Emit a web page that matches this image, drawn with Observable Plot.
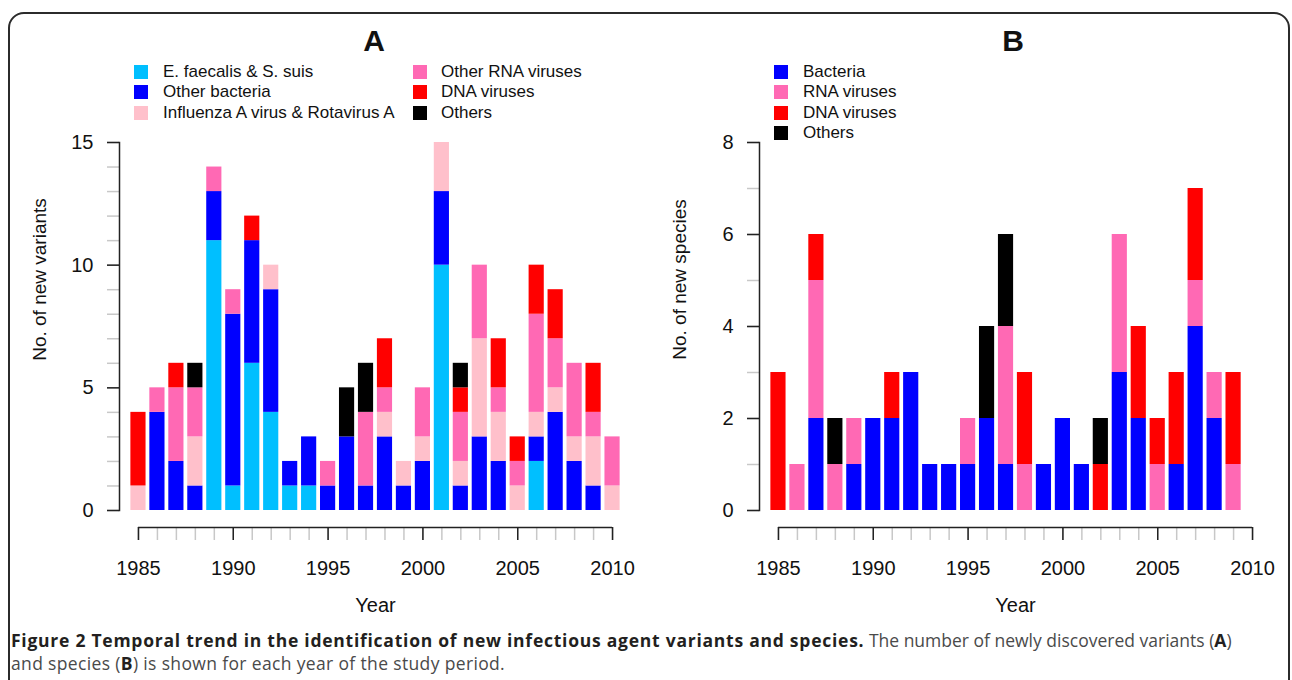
<!DOCTYPE html>
<html>
<head>
<meta charset="utf-8">
<script src="https://cdn.jsdelivr.net/npm/d3@7"></script>
<script src="https://cdn.jsdelivr.net/npm/@observablehq/plot@0.6"></script>
<style>
  body { margin: 0; background: #fff; }
  #root { position: relative; width: 1292px; height: 680px; overflow: hidden; background: #fff;
          font-family: "Liberation Sans", Arial, sans-serif; color: #111; }
  .box { position: absolute; left: 8px; top: 12px; width: 1282px; height: 740px;
         border: 2px solid #2b2b2b; border-radius: 16px; box-sizing: border-box; }
  .panel { position: absolute; top: 0; width: 640px; height: 625px; }
  .ptitle { position: absolute; top: 26px; font: bold 30px "Liberation Sans", Arial, sans-serif;
            line-height: 30px; transform: translateX(-50%); }
  .sw { position: absolute; width: 14px; height: 14px; }
  .lt { position: absolute; font-size: 17px; line-height: 20px; white-space: nowrap; transform: translateY(-50%); }
  .caption { position: absolute; left: 11px; top: 629px; width: 1275px; font-family: "Open Sans", sans-serif;
             font-size: 17.5px; line-height: 23px; color: #4a4a4a; white-space: nowrap; }
  .caption b { color: #231f20; }
  .caption b.lead { letter-spacing: 0.75px; }
  .caption span.l2 { letter-spacing: 0.35px; }
</style>
</head>
<body>
<div id="root">
  <div id="panelA" class="panel" style="left:0px"></div>
  <div id="panelB" class="panel" style="left:640px"></div>
  <div class="ptitle" style="left:374px">A</div>
  <div class="ptitle" style="left:1013px">B</div>
  <div id="legA"></div>
  <div id="legB"></div>
  <div class="caption"><b class="lead">Figure 2 Temporal trend in the identification of new infectious agent variants and species.</b> The number of newly discovered variants (<b>A</b>)<br><span class="l2">and species (<b>B</b>) is shown for each year of the study period.</span></div>
  <div class="box"></div>
</div>
<script>
// ---------- Panel A data (new variants) ----------
const yearsA = [1985,1986,1987,1988,1989,1990,1991,1992,1993,1994,1995,1996,1997,
                1998,1999,2000,2001,2002,2003,2004,2005,2006,2007,2008,2009,2010];
const catsA = ["E. faecalis & S. suis", "Other bacteria", "Influenza A virus & Rotavirus A",
               "Other RNA viruses", "DNA viruses", "Others"];
const colorsA = ["#00BFFF", "#0000FF", "#FFC0CB", "#FF69B4", "#FF0000", "#000000"];
const efaecalisA     = [0,0,0,0,11,1,6,4,1,1,0,0,0, 0,0,0,10,0,0,0,0,2,0,0,0,0];
const otherBactA     = [0,4,2,1,2,7,5,5,1,2,1,3,1, 3,1,2,3,1,3,2,0,1,4,2,1,0];
const influenzaA     = [1,0,0,2,0,0,0,1,0,0,0,0,0, 1,1,1,2,1,4,2,1,1,1,1,2,1];
const otherRnaA      = [0,1,3,2,1,1,0,0,0,0,1,0,3, 1,0,2,0,2,3,1,1,4,2,3,1,2];
const dnaA           = [3,0,1,0,0,0,1,0,0,0,0,0,0, 2,0,0,0,1,0,2,1,2,2,0,2,0];
const othersA        = [0,0,0,1,0,0,0,0,0,0,0,2,2, 0,0,0,0,1,0,0,0,0,0,0,0,0];
const yMajorA = [0, 5, 10, 15];
const yMinorA = [0,1,2,3,4,5,6,7,8,9,10,11,12,13,14,15];

// ---------- Panel B data (new species) ----------
const yearsB = [1985,1986,1987,1988,1989,1990,1991,1992,1993,1994,1995,1996,1997,
                1998,1999,2000,2001,2002,2003,2004,2005,2006,2007,2008,2009];
const catsB = ["Bacteria", "RNA viruses", "DNA viruses", "Others"];
const colorsB = ["#0000FF", "#FF69B4", "#FF0000", "#000000"];
const bacteriaB = [0,0,2,0,1,2,2,3,1,1,1,2,1, 0,1,2,1,0,3,2,0,1,4,2,0];
const rnaB      = [0,1,3,1,1,0,0,0,0,0,1,0,3, 1,0,0,0,0,3,0,1,0,1,1,1];
const dnaB      = [3,0,1,0,0,0,1,0,0,0,0,0,0, 2,0,0,0,1,0,2,1,2,2,0,2];
const othersB   = [0,0,0,1,0,0,0,0,0,0,0,2,2, 0,0,0,0,1,0,0,0,0,0,0,0];
const yMajorB = [0, 2, 4, 6, 8];
const yMinorB = [0,1,2,3,4,5,6,7,8];

// ---------- Shared x axis ----------
const xMajor = [1985, 1990, 1995, 2000, 2005, 2010];
const xMinor = [1985,1986,1987,1988,1989,1990,1991,1992,1993,1994,1995,1996,1997,
                1998,1999,2000,2001,2002,2003,2004,2005,2006,2007,2008,2009,2010];
const xSpan = {from: 1985, to: 2010};
const xDomain = [1984, 2011];

function stackRows(years, cats, seriesList) {
  const rows = [];
  years.forEach((yr, i) => {
    let acc = 0;
    seriesList.forEach((vals, k) => {
      const v = vals[i];
      if (v > 0) { rows.push({year: yr, cat: cats[k], y1: acc, y2: acc + v}); acc += v; }
    });
  });
  return rows;
}

function panel({rows, cats, colors, yMax, yMajor, yMinor, yLabel}) {
  const BAR_HALF = 0.4;
  return Plot.plot({
    width: 640, height: 625,
    marginLeft: 119, marginRight: 9, marginTop: 142, marginBottom: 115,
    style: {background: "transparent", fontFamily: "Liberation Sans, Arial, sans-serif", fontSize: "19px", overflow: "visible"},
    x: {domain: xDomain},
    y: {domain: [0, yMax]},
    color: {domain: cats, range: colors},
    marks: [
      Plot.axisY(yMinor, {tickSize: 12, stroke: "#c8c8c8", strokeWidth: 1.5, tickFormat: () => "", label: null}),
      Plot.axisY(yMajor, {tickSize: 12, tickPadding: 14, stroke: "#222", strokeWidth: 1.5, fill: "#111",
                          fontSize: 20, tickFormat: d => String(d), label: null}),
      Plot.text([yLabel], {frameAnchor: "left", text: d => d, rotate: -90, textAnchor: "middle",
                           lineAnchor: "middle", dx: -80, dy: -47, fontSize: 19, fill: "#111"}),
      Plot.frame({anchor: "left", stroke: "#222", strokeWidth: 1.5}),
      Plot.axisX(xMinor, {tickSize: 13, stroke: "#c8c8c8", strokeWidth: 1.5, tickFormat: () => "", label: null, dy: 17}),
      Plot.axisX(xMajor, {tickSize: 13, tickPadding: 20, stroke: "#222", strokeWidth: 1.5, fill: "#111",
                          fontSize: 20, tickFormat: d => String(d), dy: 17,
                          label: "Year", labelAnchor: "center", labelOffset: 101, labelArrow: "none"}),
      Plot.ruleY([xSpan], {x1: "from", x2: "to", y: () => 0, dy: 17, stroke: "#222", strokeWidth: 1.5}),
      Plot.rectY(rows, {x1: d => d.year - BAR_HALF, x2: d => d.year + BAR_HALF, y1: "y1", y2: "y2", fill: "cat"})
    ]
  });
}

const rowsA = stackRows(yearsA, catsA, [efaecalisA, otherBactA, influenzaA, otherRnaA, dnaA, othersA]);
const rowsB = stackRows(yearsB, catsB, [bacteriaB, rnaB, dnaB, othersB]);

document.getElementById("panelA").append(panel({rows: rowsA, cats: catsA, colors: colorsA, yMax: 15,
  yMajor: yMajorA, yMinor: yMinorA, yLabel: "No. of new variants"}));
document.getElementById("panelB").append(panel({rows: rowsB, cats: catsB, colors: colorsB, yMax: 8,
  yMajor: yMajorB, yMinor: yMinorB, yLabel: "No. of new species"}));

// ---------- Legends ----------
function legend(el, cats, colors, cols) {
  cats.forEach((c, i) => {
    const col = cols.find(cc => i >= cc.start && i < cc.start + cc.n);
    const r = i - col.start;
    const cy = 71.5 + r * 20.6;
    const sw = document.createElement("div");
    sw.className = "sw"; sw.style.left = col.sx + "px"; sw.style.top = (cy - 7) + "px";
    sw.style.background = colors[i];
    const t = document.createElement("div");
    t.className = "lt"; t.style.left = col.tx + "px"; t.style.top = cy + "px"; t.textContent = c;
    el.append(sw, t);
  });
}
legend(document.getElementById("legA"), catsA, colorsA, [{start: 0, n: 3, sx: 134, tx: 163}, {start: 3, n: 3, sx: 413, tx: 441}]);
legend(document.getElementById("legB"), catsB, colorsB, [{start: 0, n: 4, sx: 774, tx: 803}]);
</script>
</body>
</html>
